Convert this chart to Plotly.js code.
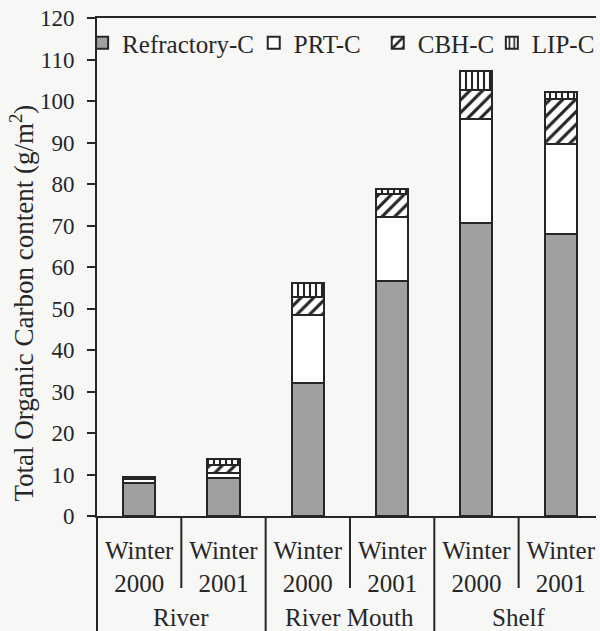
<!DOCTYPE html>
<html>
<head>
<meta charset="utf-8">
<script src="https://cdn.plot.ly/plotly-3.0.1.min.js"></script>
<style>html,body{margin:0;padding:0;background:#f7f7f6;}</style>
</head>
<body>
<div id="chart" style="width:600px;height:631px;"></div>
<script>
// ---- data ----
var periods = ["Winter<br>2000", "Winter<br>2001", "Winter<br>2000", "Winter<br>2001", "Winter<br>2000", "Winter<br>2001"];
var groups = ["River", "River Mouth", "Shelf"];
var refractoryC = [8.0, 9.2, 32.0, 56.6, 70.7, 68.0];
var prtC = [1.0, 1.2, 16.4, 15.5, 24.9, 21.6];
var cbhC = [0.3, 2.0, 4.4, 5.4, 7.1, 10.8];
var lipC = [0.2, 1.4, 3.4, 1.2, 4.6, 1.8];
var yTicks = [0, 10, 20, 30, 40, 50, 60, 70, 80, 90, 100, 110, 120];

var xIdx = periods.map(function (_, i) { return i; });
var FONT = "Liberation Serif, Times New Roman, serif";
var INK = "#262626";

function barTrace(name, vals, color, pattern, legendId) {
  var t = {
    type: "bar", name: name, x: xIdx, y: vals, width: 0.38, legend: legendId,
    marker: { color: color, line: { color: INK, width: 2 } },
    hoverinfo: "name+y"
  };
  if (pattern) t.marker.pattern = pattern;
  return t;
}

var traces = [
  barTrace("Refractory-C", refractoryC, "#a0a0a0", null, "legend"),
  barTrace("PRT-C", prtC, "#ffffff", null, "legend2"),
  barTrace("CBH-C", cbhC, "#ffffff", { shape: "/", fgcolor: INK, bgcolor: "#ffffff", size: 9, solidity: 0.35 }, "legend3"),
  barTrace("LIP-C", lipC, "#ffffff", { shape: "|", fgcolor: INK, bgcolor: "#ffffff", size: 6, solidity: 0.35 }, "legend4")
];

var plotL = 97, plotW = 503, plotT = 18, plotH = 631 - 18 - 115;
var shapes = [];
var annotations = [];
// left axis extension down through the category table
shapes.push({ type: "line", xref: "paper", yref: "paper", x0: 0, x1: 0, y0: 0, y1: -0.3, line: { color: INK, width: 2 } });
// dividers between periods (short) and between groups (full)
for (var i = 0; i < periods.length; i++) {
  var xb = i + 0.5;
  var isGroup = (i % 2 === 1);
  shapes.push({ type: "line", xref: "x", yref: "paper", x0: xb, x1: xb, y0: 0,
    y1: isGroup ? -0.3 : -72 / plotH, line: { color: INK, width: 2 } });
}
groups.forEach(function (g, k) {
  annotations.push({ text: g, xref: "x", yref: "paper", x: 2 * k + 0.5, y: -101 / plotH,
    showarrow: false, yanchor: "middle", font: { family: FONT, size: 25, color: INK } });
});
annotations.push({ text: "Total Organic Carbon content (g/m<sup>2</sup>)", textangle: -90,
  xref: "paper", yref: "paper", x: -76 / plotW, y: (516 - 303) / plotH, xanchor: "center", yanchor: "middle",
  showarrow: false, font: { family: FONT, size: 27, color: INK } });

function legendAt(textLeftPx) {
  return { orientation: "h", x: (textLeftPx - 40 - plotL) / plotW, y: (516 - 43) / plotH,
    xanchor: "left", yanchor: "middle", bgcolor: "rgba(0,0,0,0)", borderwidth: 0,
    font: { family: FONT, size: 25, color: INK } };
}

var layout = {
  width: 600, height: 631,
  margin: { l: plotL, r: 0, t: plotT, b: 115, pad: 0 },
  paper_bgcolor: "#f7f7f6", plot_bgcolor: "#f7f7f6",
  barmode: "stack",
  showlegend: true,
  legend: legendAt(122),
  legend2: legendAt(295),
  legend3: legendAt(420),
  legend4: legendAt(535),
  xaxis: {
    range: [-0.5, -0.5 + plotW / 85], tickvals: xIdx, ticktext: periods,
    showline: true, linecolor: INK, linewidth: 2, mirror: true, ticks: "", showgrid: false, zeroline: false,
    tickfont: { family: FONT, size: 25, color: INK }, ticklabelstandoff: 11, fixedrange: true
  },
  yaxis: {
    range: [0, 120], tickvals: yTicks, ticktext: yTicks.map(String),
    showline: true, linecolor: INK, linewidth: 2, ticks: "outside", ticklen: 8, tickwidth: 2, tickcolor: INK,
    showgrid: false, zeroline: false, ticklabelstandoff: 8,
    tickfont: { family: FONT, size: 23, color: INK }, fixedrange: true
  },
  shapes: shapes,
  annotations: annotations
};

Plotly.newPlot("chart", traces, layout, { displayModeBar: false, staticPlot: true });
</script>
</body>
</html>
